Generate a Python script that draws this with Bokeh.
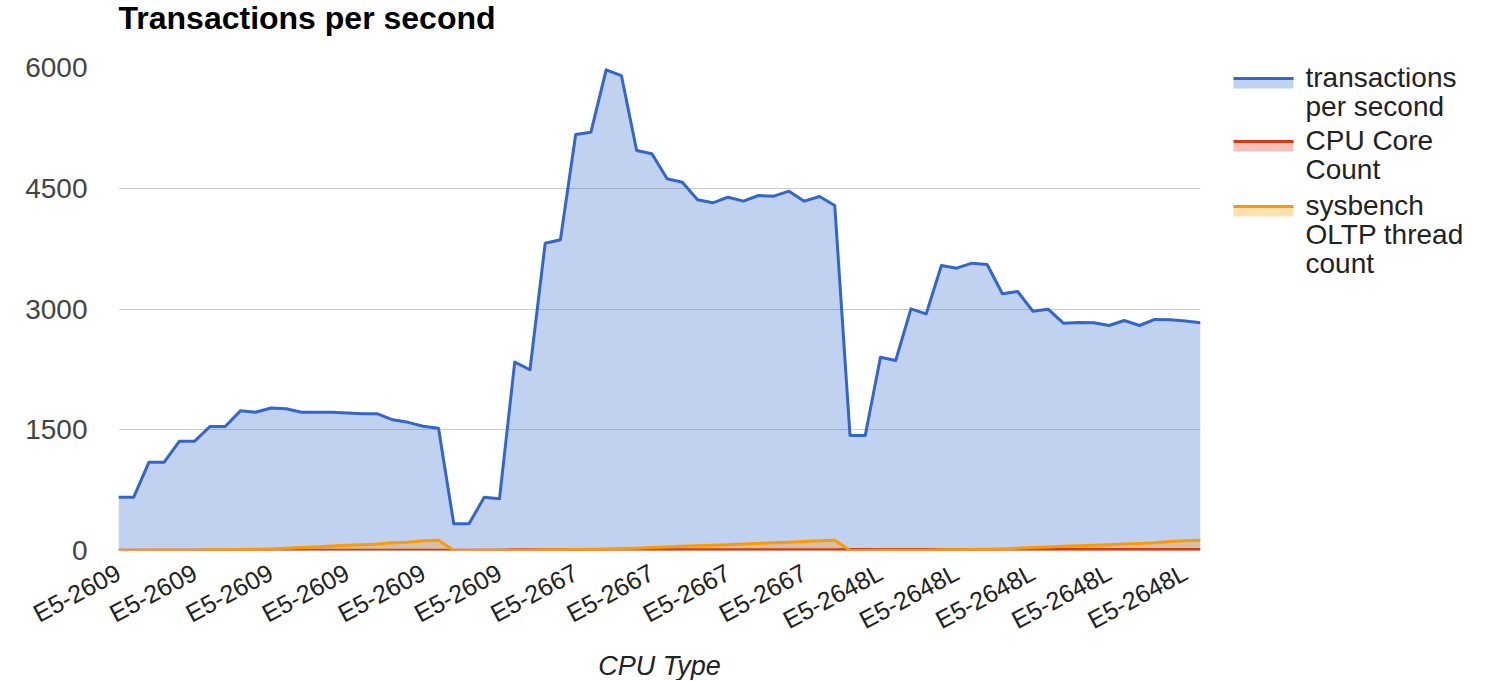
from bokeh.plotting import figure
from bokeh.models import Range1d, FixedTicker, ColumnDataSource
from bokeh.layouts import row, column
from bokeh.embed import file_html
from bokeh.resources import INLINE

# ---------------- data ----------------
cpu_types = (["E5-2609"] * 26) + (["E5-2667"] * 22) + (["E5-2648L"] * 24)

tps = [662, 662, 1097, 1097, 1358, 1358, 1540, 1540, 1735, 1718, 1770, 1760,
       1718, 1718, 1716, 1708, 1700, 1698, 1623, 1592, 1544, 1520,
       331, 331, 662, 642,
       2340, 2245, 3817, 3860, 5168, 5196, 5971, 5900, 4969, 4928, 4617, 4575,
       4356, 4319, 4389, 4340, 4410, 4402, 4464, 4340, 4398, 4286,
       1429, 1429, 2401, 2360, 3002, 2940, 3540, 3507, 3569, 3553, 3189, 3217,
       2973, 2998, 2824, 2832, 2830, 2795, 2857, 2795, 2870, 2866, 2850, 2830]

core_count = [4, 4, 4, 4, 4, 4, 4, 4, 4, 4, 4, 4, 4, 4, 4, 4, 4, 4, 4, 4, 4, 4,
              4, 4, 4, 4,
              8, 8, 8, 8, 8, 8, 8, 8, 8, 8, 8, 8, 8, 8, 8, 8, 8, 8, 8, 8, 8, 8,
              12, 12, 12, 12, 12, 12, 12, 12, 12, 12, 12, 12, 12, 12, 12, 12,
              12, 12, 12, 12, 12, 12, 12, 12]

thread_count = [1, 1, 2, 2, 4, 4, 8, 8, 12, 16, 20, 28, 36, 44, 56, 64, 72, 80, 96, 104, 120, 128,
                1, 1, 2, 2, 4, 4, 8, 8, 12, 16, 20, 24, 28, 36, 44, 52, 60, 64, 72, 80, 88, 96, 104, 112, 120, 128,
                1, 1, 2, 2, 4, 4, 8, 8, 12, 16, 20, 28, 36, 44, 52, 60, 64, 72, 80, 88, 96, 112, 120, 128]

y_ticks = [0, 1500, 3000, 4500, 6000]
label_step = 5

title_text = "Transactions per second"
x_title = "CPU Type"
series_names = [["transactions", "per second"], ["CPU Core", "Count"],
                ["sysbench", "OLTP thread", "count"]]
colors = ["#3366cc", "#dc3912", "#ff9900"]

FONT = "Liberation Sans"


def blank(fig):
    fig.axis.visible = False
    fig.grid.visible = False
    fig.outline_line_color = None
    fig.background_fill_color = "white"
    fig.border_fill_color = "white"


TOTAL_W = 1481
TITLE_H = 40
ROW_TOP, ROW_BOT = TITLE_H, 652
BOT_H = 28
FR_TOP, FR_BOT, FR_LEFT, FR_RIGHT = 67, 550, 118, 1200
P_W = 1216
Q_W = TOTAL_W - P_W
ROW_H = ROW_BOT - ROW_TOP

# ---------------- title strip ----------------
t = figure(width=TOTAL_W, height=TITLE_H, output_backend="svg", toolbar_location=None,
           x_range=Range1d(0, TOTAL_W), y_range=Range1d(TITLE_H, 0), min_border=0)
blank(t)
t.text(x=[FR_LEFT], y=[17], text=[title_text], text_font={"value": FONT},
       text_font_size="32px", text_font_style="bold", text_color="#000000",
       text_baseline="middle", text_align="left")

# ---------------- main chart ----------------
xs = list(range(len(tps)))
src = ColumnDataSource(dict(x=xs, tps=tps, cores=core_count, threads=thread_count))

p = figure(width=P_W, height=ROW_H, output_backend="svg", toolbar_location=None,
           x_range=Range1d(0, len(tps) - 1), y_range=Range1d(0, 6000),
           min_border_left=FR_LEFT, min_border_right=P_W - FR_RIGHT,
           min_border_top=FR_TOP - ROW_TOP, min_border_bottom=ROW_BOT - FR_BOT)
p.outline_line_color = None
p.background_fill_color = "white"
p.border_fill_color = "white"

for col, c in zip(["tps", "cores", "threads"], colors):
    p.varea(x="x", y1=0, y2=col, source=src, fill_color=c, fill_alpha=0.3)
for col, c in zip(["tps", "cores", "threads"], colors):
    p.line(x="x", y=col, source=src, line_color=c, line_width=3, line_join="round")

p.xgrid.grid_line_color = None
p.ygrid.grid_line_color = "#cccccc"
p.ygrid.grid_line_width = 1
p.yaxis.ticker = FixedTicker(ticks=y_ticks)
p.xaxis.ticker = FixedTicker(ticks=list(range(0, len(tps), label_step)))
p.xaxis.major_label_overrides = {i: cpu_types[i] for i in range(0, len(tps), label_step)}
p.xaxis.major_label_orientation = 0.49

for ax in (p.xaxis, p.yaxis):
    ax.axis_line_color = None
    ax.major_tick_line_color = None
    ax.minor_tick_line_color = None
    ax.major_label_text_font = FONT

p.yaxis.major_label_text_font_size = "28px"
p.yaxis.major_label_text_color = "#444444"
p.yaxis.major_label_standoff = 25
p.xaxis.major_label_text_font_size = "25px"
p.xaxis.major_label_text_color = "#222222"
p.xaxis.major_label_standoff = 14

# ---------------- legend panel (frame aligned with the main frame) ----------------
q = figure(width=Q_W, height=ROW_H, output_backend="svg", toolbar_location=None,
           x_range=Range1d(P_W, P_W + Q_W), y_range=Range1d(FR_BOT, FR_TOP),
           min_border_left=0, min_border_right=0,
           min_border_top=FR_TOP - ROW_TOP, min_border_bottom=ROW_BOT - FR_BOT)
blank(q)

entry_line = [78, 141, 206]
line_gap = 29
for names, c, yl in zip(series_names, colors, entry_line):
    q.quad(left=[1233], right=[1293], top=[yl], bottom=[yl + 10], fill_color=c,
           fill_alpha=0.3, line_color=None)
    q.segment(x0=[1233], y0=[yl], x1=[1293], y1=[yl], line_color=c, line_width=3)
    q.text(x=[1305] * len(names), y=[yl - 1 + k * line_gap for k in range(len(names))],
           text=names, text_font_size="28px", text_color="#222222",
           text_baseline="middle", text_font={"value": FONT})

# ---------------- x-axis title strip ----------------
b = figure(width=TOTAL_W, height=BOT_H, output_backend="svg", toolbar_location=None,
           x_range=Range1d(0, TOTAL_W), y_range=Range1d(ROW_BOT + BOT_H, ROW_BOT), min_border=0)
blank(b)
b.text(x=[(FR_LEFT + FR_RIGHT) / 2], y=[665], text=[x_title], text_font={"value": FONT},
       text_font_size="27px", text_font_style="italic", text_color="#222222",
       text_baseline="middle", text_align="center")

layout = column(t, row(p, q), b)
open("out.html", "w").write(file_html(layout, INLINE))
